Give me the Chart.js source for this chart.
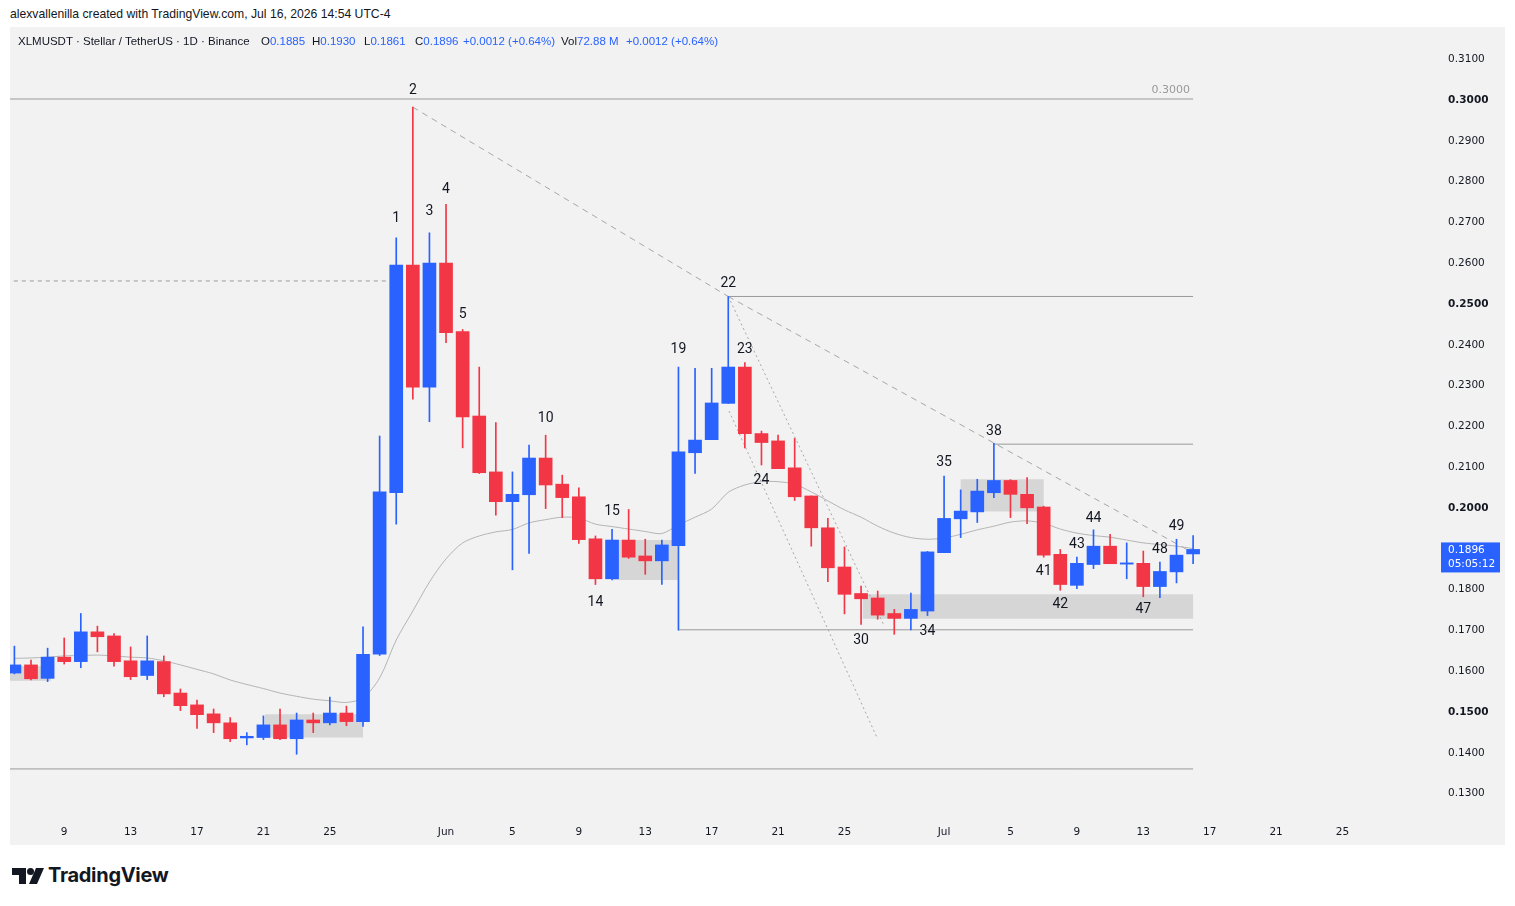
<!DOCTYPE html>
<html lang="en">
<head>
<meta charset="UTF-8">
<title>XLMUSDT 1D</title>
<script src="https://cdn.jsdelivr.net/npm/chart.js"></script>
<style>
    body { margin: 0; background: #fff; color: #131722; font-family: "Liberation Sans", Arial, sans-serif; }
    #credit { position: absolute; left: 10px; top: 7px; font-size: 12.2px; }
    #panel { position: absolute; left: 10px; top: 27px; width: 1495px; height: 818px; background: #f2f2f2; overflow: hidden; }
    #panel canvas { position: absolute; left: 0; top: 1px; }
    .lg { position: absolute; top: 8px; font-size: 11.5px; white-space: nowrap; }
    .lg b { font-weight: normal; color: #2962ff; }
    #logo { position: absolute; left: 12px; top: 867px; }
    #logoText { position: absolute; left: 48px; top: 863px; font: bold 20px Inter, "Noto Sans", sans-serif; letter-spacing: -0.3px; }
</style>
</head>
<body>
<div id="credit">alexvallenilla created with TradingView.com, Jul 16, 2026 14:54 UTC-4</div>
<div id="panel">
    <canvas id="chart" width="1495" height="818"></canvas>
    <span class="lg" style="left:8px">XLMUSDT · Stellar / TetherUS · 1D · Binance</span>
    <span class="lg" style="left:251px">O<b>0.1885</b></span>
    <span class="lg" style="left:302px">H<b>0.1930</b></span>
    <span class="lg" style="left:354px">L<b>0.1861</b></span>
    <span class="lg" style="left:405px">C<b>0.1896</b></span>
    <span class="lg" style="left:453px"><b>+0.0012 (+0.64%)</b></span>
    <span class="lg" style="left:551px">Vol<b>72.88 M</b></span>
    <span class="lg" style="left:616px"><b>+0.0012 (+0.64%)</b></span>
</div>
<svg id="logo" width="32" height="18" viewBox="0 0 32 18">
    <path d="M0 1h14v16h-7v-9h-7z" fill="#131722"/>
    <circle cx="18.5" cy="4.5" r="3.5" fill="#131722"/>
    <path d="M24 1h8l-7 16h-8z" fill="#131722"/>
</svg>
<div id="logoText">TradingView</div>

<script>
    // daily candles, May 6 - Jul 16
    const dates = [
        'May 6', 'May 7', 'May 8', 'May 9', 'May 10', 'May 11', 'May 12', 'May 13', 'May 14', 'May 15',
        'May 16', 'May 17', 'May 18', 'May 19', 'May 20', 'May 21', 'May 22', 'May 23', 'May 24', 'May 25',
        'May 26', 'May 27', 'May 28', 'May 29', 'May 30', 'May 31', 'Jun 1', 'Jun 2', 'Jun 3', 'Jun 4',
        'Jun 5', 'Jun 6', 'Jun 7', 'Jun 8', 'Jun 9', 'Jun 10', 'Jun 11', 'Jun 12', 'Jun 13', 'Jun 14',
        'Jun 15', 'Jun 16', 'Jun 17', 'Jun 18', 'Jun 19', 'Jun 20', 'Jun 21', 'Jun 22', 'Jun 23', 'Jun 24',
        'Jun 25', 'Jun 26', 'Jun 27', 'Jun 28', 'Jun 29', 'Jun 30', 'Jul 1', 'Jul 2', 'Jul 3', 'Jul 4',
        'Jul 5', 'Jul 6', 'Jul 7', 'Jul 8', 'Jul 9', 'Jul 10', 'Jul 11', 'Jul 12', 'Jul 13', 'Jul 14',
        'Jul 15', 'Jul 16'
    ];
    const open = [
        0.1593, 0.1613, 0.1580, 0.1632, 0.1621, 0.1694, 0.1684, 0.1623, 0.1587, 0.1621,
        0.1544, 0.1515, 0.1493, 0.1471, 0.1434, 0.1435, 0.1466, 0.1432, 0.1478, 0.1471,
        0.1495, 0.1474, 0.1639, 0.2035, 0.2593, 0.2294, 0.2598, 0.2430, 0.2223, 0.2086,
        0.2013, 0.2030, 0.2120, 0.2056, 0.2025, 0.1922, 0.1824, 0.1919, 0.1880, 0.1868,
        0.1905, 0.2133, 0.2165, 0.2254, 0.2343, 0.2180, 0.2162, 0.2096, 0.2027, 0.1949,
        0.1853, 0.1788, 0.1777, 0.1739, 0.1727, 0.1745, 0.1888, 0.1971, 0.1988, 0.2035,
        0.2065, 0.2031, 0.2000, 0.1884, 0.1808, 0.1859, 0.1904, 0.1860, 0.1862, 0.1805,
        0.1841, 0.1885
    ];
    const high = [
        0.1659, 0.1625, 0.1654, 0.1679, 0.1739, 0.1708, 0.1690, 0.1657, 0.1684, 0.1635,
        0.1554, 0.1527, 0.1505, 0.1484, 0.1447, 0.1488, 0.1505, 0.1495, 0.1495, 0.1534,
        0.1512, 0.1706, 0.2174, 0.2660, 0.2980, 0.2672, 0.2742, 0.2435, 0.2343, 0.2207,
        0.2086, 0.2152, 0.2176, 0.2078, 0.2047, 0.1929, 0.1945, 0.1994, 0.1921, 0.1919,
        0.2343, 0.2340, 0.2340, 0.2516, 0.2354, 0.2186, 0.2176, 0.2168, 0.2027, 0.1972,
        0.1902, 0.1806, 0.1794, 0.1749, 0.1789, 0.1891, 0.2076, 0.2042, 0.2068, 0.2156,
        0.2067, 0.2072, 0.2002, 0.1896, 0.1877, 0.1944, 0.1933, 0.1912, 0.1892, 0.1865,
        0.1921, 0.1930
    ];
    const low = [
        0.1591, 0.1576, 0.1572, 0.1615, 0.1606, 0.1645, 0.1610, 0.1577, 0.1577, 0.1535,
        0.1501, 0.1457, 0.1447, 0.1425, 0.1417, 0.1430, 0.1430, 0.1394, 0.1447, 0.1466,
        0.1464, 0.1462, 0.1636, 0.1958, 0.2264, 0.2209, 0.2403, 0.2145, 0.2082, 0.1980,
        0.1846, 0.1886, 0.1996, 0.1974, 0.1911, 0.1810, 0.1821, 0.1874, 0.1835, 0.1810,
        0.1698, 0.2082, 0.2165, 0.2254, 0.2145, 0.2103, 0.2094, 0.2016, 0.1904, 0.1817,
        0.1738, 0.1712, 0.1725, 0.1688, 0.1699, 0.1734, 0.1888, 0.1925, 0.1962, 0.2023,
        0.1974, 0.1959, 0.1877, 0.1796, 0.1800, 0.1849, 0.1861, 0.1824, 0.1780, 0.1778,
        0.1814, 0.1861
    ];
    const close = [
        0.1613, 0.1579, 0.1632, 0.1621, 0.1694, 0.1682, 0.1621, 0.1584, 0.1623, 0.1542,
        0.1513, 0.1491, 0.1471, 0.1432, 0.1438, 0.1466, 0.1432, 0.1478, 0.1471, 0.1495,
        0.1474, 0.1639, 0.2037, 0.2593, 0.2294, 0.2598, 0.2427, 0.2221, 0.2084, 0.2013,
        0.2031, 0.2120, 0.2054, 0.2023, 0.1920, 0.1824, 0.1919, 0.1877, 0.1868, 0.1907,
        0.2135, 0.2164, 0.2255, 0.2343, 0.2180, 0.2158, 0.2094, 0.2025, 0.1949, 0.1851,
        0.1786, 0.1775, 0.1735, 0.1727, 0.1749, 0.1890, 0.1972, 0.1990, 0.2039, 0.2065,
        0.2031, 0.1998, 0.1882, 0.1810, 0.1862, 0.1904, 0.1861, 0.1863, 0.1805, 0.1842,
        0.1882, 0.1896
    ];
    // moving average line
    const maLine = [
        0.1629, 0.1630, 0.1632, 0.1635, 0.1636, 0.1637, 0.1635, 0.1632, 0.1630, 0.1623,
        0.1613, 0.1602, 0.1591, 0.1576, 0.1565, 0.1555, 0.1544, 0.1536, 0.1529, 0.1525,
        0.1521, 0.1532, 0.1581, 0.1674, 0.1745, 0.1816, 0.1873, 0.1912, 0.1929, 0.1939,
        0.1945, 0.1961, 0.1969, 0.1975, 0.1973, 0.1958, 0.1952, 0.1946, 0.1940, 0.1935,
        0.1956, 0.1975, 0.1995, 0.2036, 0.2054, 0.2062, 0.2062, 0.2056, 0.2037, 0.2015,
        0.1993, 0.1975, 0.1953, 0.1936, 0.1925, 0.1921, 0.1924, 0.1933, 0.1944, 0.1953,
        0.1963, 0.1966, 0.1960, 0.1946, 0.1936, 0.1930, 0.1926, 0.1919, 0.1912, 0.1908,
        0.1904, 0.1898
    ];

    // axes
    const priceTicks = [0.13, 0.14, 0.15, 0.16, 0.17, 0.18, 0.19, 0.20, 0.21, 0.22,
        0.23, 0.24, 0.25, 0.26, 0.27, 0.28, 0.29, 0.30, 0.31];
    const boldTicks = ['0.1500', '0.2000', '0.2500', '0.3000'];
    const dateTickPos = [3, 7, 11, 15, 19, 26, 30, 34, 38, 42, 46, 50, 56, 60, 64, 68, 72, 76, 80];
    const dateTickLabels = ['9', '13', '17', '21', '25', 'Jun', '5', '9', '13', '17', '21', '25',
        'Jul', '5', '9', '13', '17', '21', '25'];

    // drawings: horizontal levels (price, from day, to day)
    const levelPrice = [0.3000, 0.2554, 0.2516, 0.2154, 0.1699, 0.1358];
    const levelFrom = [-1, -1, 43, 59, 40, -1];
    const levelTo = [71, 22.6, 71, 71, 71, 71];
    const levelDashed = [false, true, false, false, false, false];
    // trend lines: [day, price] pairs
    const trendA = [[24, 0.2980], [43, 0.2516]];
    const trendB = [[43, 0.2516], [70.8, 0.1892]];
    const channelTop = [[43, 0.2516], [52.4, 0.1708]];
    const channelBottom = [[43.05, 0.2235], [52, 0.1431]];
    // shaded zones
    const zoneFrom = [-1, 15.1, 36, 51.1, 57];
    const zoneTo = [2.2, 21, 40, 71, 62];
    const zoneHigh = [0.1610, 0.1492, 0.1919, 0.1786, 0.2068];
    const zoneLow = [0.1574, 0.1435, 0.1821, 0.1726, 0.1989];
    // wave count labels
    const waveText = ['1', '2', '3', '4', '5', '10', '14', '15', '19', '22', '23', '24', '30',
        '34', '35', '38', '41', '42', '43', '44', '47', '48', '49'];
    const waveDay = [23, 24, 25, 26, 27, 32, 35, 36, 40, 43, 44, 45, 51, 55, 56, 59, 62, 63,
        64, 65, 68, 69, 70];
    const wavePrice = [0.2708, 0.3020, 0.2725, 0.2777, 0.2471, 0.2218, 0.1765, 0.1990, 0.2387,
        0.2549, 0.2385, 0.2066, 0.1674, 0.1696, 0.2108, 0.2186, 0.1841, 0.1760, 0.1909, 0.1973,
        0.1748, 0.1897, 0.1951];

    const UP = '#2962ff';
    const DOWN = '#f23645';
    const candleColors = close.map((c, i) => c >= open[i] ? UP : DOWN);

    function segment(points, dash, color) {
        return {
            type: 'line',
            data: points.map(p => ({ x: p[0], y: p[1] })),
            borderColor: color,
            borderWidth: 1,
            borderDash: dash,
            pointRadius: 0,
            order: 5
        };
    }

    const datasets = [
        {
            // candle bodies
            data: dates.map((d, i) => ({ x: i, y: [open[i], close[i]] })),
            backgroundColor: candleColors,
            barThickness: 13,
            minBarLength: 1,
            grouped: false,
            order: 0
        },
        {
            // wicks
            data: dates.map((d, i) => ({ x: i, y: [low[i], high[i]] })),
            backgroundColor: candleColors,
            barThickness: 1,
            grouped: false,
            order: 1
        },
        {
            type: 'line',
            data: maLine.map((v, i) => ({ x: i, y: v })),
            borderColor: '#b4b4b4',
            borderWidth: 1,
            pointRadius: 0,
            tension: 0.3,
            order: 4
        },
        segment(trendA, [6, 5], '#a6a6a6'),
        segment(trendB, [6, 5], '#a6a6a6'),
        segment(channelTop, [2, 3], '#a6a6a6'),
        segment(channelBottom, [2, 3], '#a6a6a6')
    ];
    levelPrice.forEach((p, k) => {
        datasets.push(segment([[levelFrom[k], p], [levelTo[k], p]], levelDashed[k] ? [4, 4] : [], '#9a9a9a'));
    });

    const drawings = {
        id: 'drawings',
        beforeDatasetsDraw(chart) {
            const { ctx, chartArea, scales: { x, y } } = chart;
            ctx.save();
            ctx.beginPath();
            ctx.rect(chartArea.left, chartArea.top, chartArea.width, chartArea.height);
            ctx.clip();
            ctx.fillStyle = '#d6d6d6';
            zoneFrom.forEach((f, k) => {
                const x0 = x.getPixelForValue(f);
                const x1 = x.getPixelForValue(zoneTo[k]);
                const y0 = y.getPixelForValue(zoneHigh[k]);
                const y1 = y.getPixelForValue(zoneLow[k]);
                ctx.fillRect(x0, y0, x1 - x0, y1 - y0);
            });
            ctx.restore();
        },
        afterDatasetsDraw(chart) {
            const { ctx, scales: { x, y } } = chart;
            ctx.save();
            ctx.fillStyle = '#131722';
            ctx.font = '14px Roboto, sans-serif';
            ctx.textAlign = 'center';
            ctx.textBaseline = 'middle';
            waveText.forEach((t, k) => {
                ctx.fillText(t, x.getPixelForValue(waveDay[k]), y.getPixelForValue(wavePrice[k]));
            });
            // level price tag on the 0.3000 line
            ctx.fillStyle = '#9a9a9a';
            ctx.font = '11px "DejaVu Sans", sans-serif';
            ctx.textAlign = 'right';
            ctx.fillText(levelPrice[0].toFixed(4), x.getPixelForValue(levelTo[0]) - 3, y.getPixelForValue(levelPrice[0]) - 9);
            ctx.restore();
        },
        afterDraw(chart) {
            const { ctx, chartArea, scales: { y } } = chart;
            const last = close[close.length - 1];
            const py = y.getPixelForValue(last);
            ctx.save();
            ctx.fillStyle = UP;
            ctx.fillRect(chartArea.right + 9, py - 7, 59, 30);
            ctx.fillStyle = '#ffffff';
            ctx.font = '10.5px "DejaVu Sans", sans-serif';
            ctx.textAlign = 'left';
            ctx.textBaseline = 'middle';
            ctx.fillText(last.toFixed(4), chartArea.right + 16, py + 1);
            ctx.fillText('05:05:12', chartArea.right + 16, py + 15);
            ctx.restore();
        }
    };

    new Chart(document.getElementById('chart'), {
        type: 'bar',
        data: { datasets: datasets },
        options: {
            responsive: false,
            animation: false,
            events: [],
            layout: { autoPadding: false, padding: { top: 23, left: 0, right: 0, bottom: 0 } },
            plugins: { legend: { display: false }, tooltip: { enabled: false } },
            scales: {
                x: {
                    type: 'linear',
                    offset: false,
                    min: -0.265,
                    max: 85.39,
                    grid: { display: false, drawTicks: false },
                    border: { display: false },
                    afterFit: axis => { axis.height = 35; },
                    afterBuildTicks: axis => { axis.ticks = dateTickPos.map(v => ({ value: v })); },
                    ticks: {
                        padding: 15,
                        maxRotation: 0,
                        autoSkip: false,
                        color: '#131722',
                        font: { family: '"DejaVu Sans", sans-serif', size: 10.5 },
                        callback: (v, idx) => dateTickLabels[idx]
                    }
                },
                y: {
                    position: 'right',
                    min: 0.125490,
                    max: 0.311765,
                    grid: { display: false, drawTicks: false },
                    border: { display: false },
                    afterFit: axis => { axis.width = 73; },
                    afterBuildTicks: axis => { axis.ticks = priceTicks.map(v => ({ value: v })); },
                    ticks: {
                        padding: 16,
                        labelOffset: 1,
                        color: '#131722',
                        font: ctx => ({
                            family: '"DejaVu Sans", sans-serif',
                            size: 10.5,
                            weight: ctx.tick && boldTicks.includes(ctx.tick.value.toFixed(4)) ? 'bold' : 'normal'
                        }),
                        callback: v => v.toFixed(4)
                    }
                }
            }
        },
        plugins: [drawings]
    });
</script>
</body>
</html>
